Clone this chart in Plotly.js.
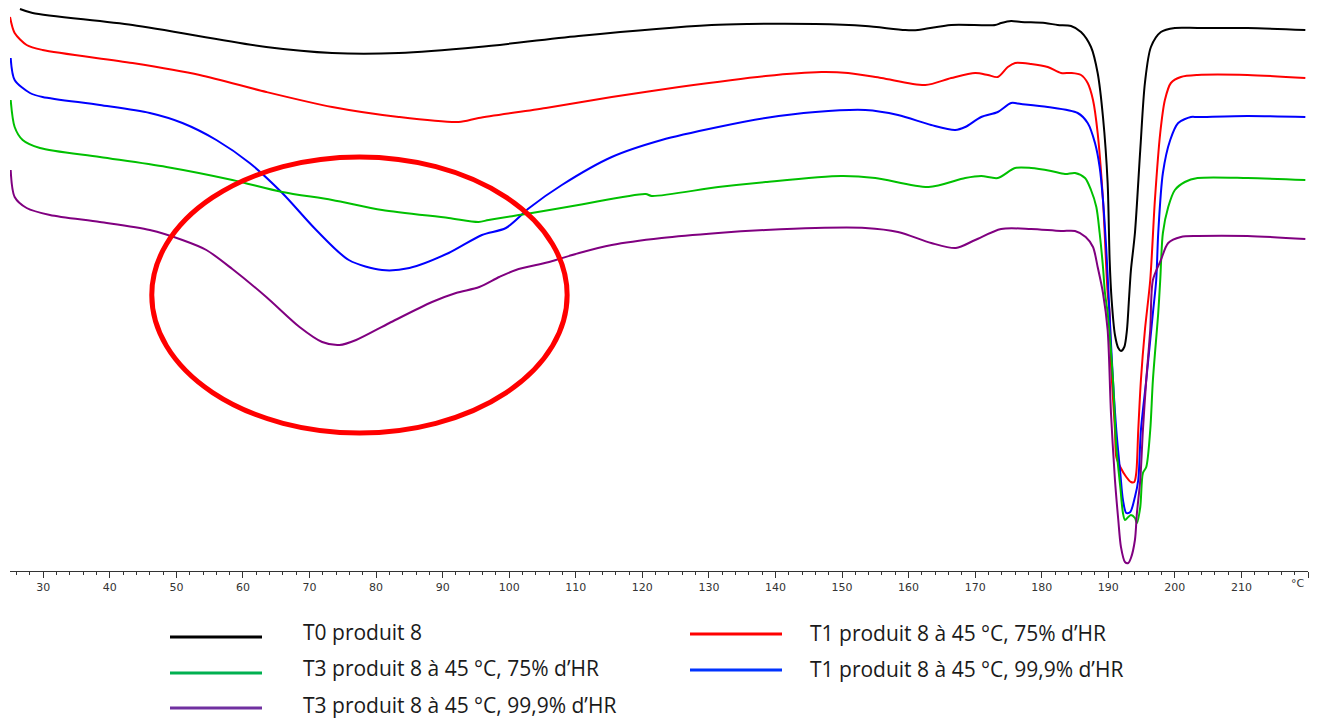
<!DOCTYPE html>
<html>
<head>
<meta charset="utf-8">
<script src="https://cdn.plot.ly/plotly-3.0.1.min.js"></script>
<style>html,body{margin:0;padding:0;background:#fff;}#chart{width:1318px;height:719px;}</style>
</head>
<body>
<div id="chart"></div>
<script>
// DSC thermograms, temperature in °C, heat flow in arbitrary units (endo down)
const tempT0 = [26.5,28.4,43.4,63.5,73.4,83.4,95.4,110.4,130.4,135.9,146.0,153.5,159.5,161.4,166.4,173.0,173.9,175.4,176.9,180.5,182.4,184.4,185.9,187.4,188.4,189.2,189.9,190.2,190.5,191.0,191.5,191.9,192.4,192.8,193.1,193.4,194.0,194.8,195.5,196.4,197.9,200.0,203.4,210.9,219.6];
const flowT0 = [562,558,546,524,518,518,524,535,546,547,547,545,541,541,546,546,548,550,549,548,546,545,539,524,498,454,388,311,271,236,223,220,224,241,271,301,338,421,488,524,539,543,543,543,541];

const tempT1_75 = [25.0,25.7,27.5,29.9,43.4,53.5,63.5,73.4,83.4,92.4,95.4,105.5,115.4,125.5,138.5,146.9,150.9,155.9,162.5,166.4,170.0,171.9,173.4,174.9,176.0,178.4,180.9,182.9,184.4,185.9,186.9,187.7,188.4,189.2,189.9,190.2,190.4,191.0,191.2,191.8,192.7,193.4,193.9,194.2,194.5,194.9,195.5,196.3,197.0,197.8,198.5,199.4,200.9,203.4,210.9,219.6];
const flowT1_75 = [554,538,526,521,508,496,479,464,454,449,453,463,474,484,495,499,498,493,486,493,498,496,494,504,508,507,504,498,498,496,488,471,438,371,278,258,208,141,114,104,94,89,89,98,141,191,241,291,371,438,471,488,494,496,496,493];

const tempT1_999 = [25.1,25.7,28.0,29.9,38.5,46.0,50.9,56.0,61.0,65.9,71.0,75.9,80.9,85.0,90.9,95.9,99.5,103.0,107.9,115.4,122.9,131.4,138.5,146.0,153.5,158.4,163.4,167.0,168.5,170.9,173.4,175.4,176.9,180.9,185.4,186.9,188.0,188.7,189.2,189.7,190.3,190.7,191.2,191.8,192.2,192.7,193.3,194.0,194.5,194.9,195.7,196.7,197.2,197.5,198.2,199.3,200.5,202.4,203.4,210.9,219.6];
const flowT1_999 = [513,491,478,474,466,458,448,431,408,378,341,311,301,303,318,336,343,363,386,414,431,444,453,459,461,456,446,441,444,454,459,468,467,464,458,448,428,404,371,321,241,191,141,98,71,58,59,74,91,141,191,258,291,338,398,431,448,454,454,455,454];

const tempT3_75 = [25.1,25.7,26.9,29.5,38.5,48.5,58.4,65.9,73.4,80.9,90.9,95.4,96.9,103.4,110.4,120.5,121.4,131.4,138.5,149.9,155.0,163.0,168.5,170.9,173.4,176.0,178.4,181.4,183.5,185.0,186.5,187.4,188.2,188.7,189.2,189.5,189.9,190.7,191.2,191.8,192.2,192.5,193.0,193.4,194.0,194.3,194.8,195.2,195.7,196.3,196.7,197.5,197.8,198.2,199.0,200.0,201.5,203.4,210.9,219.6];
const flowT3_75 = [471,444,431,423,414,404,391,379,371,361,353,349,351,358,366,377,375,384,389,395,393,384,393,395,393,403,403,400,397,398,393,381,364,338,304,278,258,191,124,84,58,51,54,56,53,48,64,98,104,141,191,258,291,338,364,381,389,393,393,391];

const tempT3_999 = [25.1,25.7,27.5,31.0,38.5,46.0,50.9,54.5,58.4,63.5,68.5,71.9,74.5,77.0,82.0,88.4,92.0,95.5,98.5,101.0,106.0,110.5,115.4,122.9,131.4,138.5,146.0,153.5,158.4,163.4,167.1,170.0,173.9,178.4,182.9,185.0,186.6,187.7,188.4,189.2,189.9,190.4,191.0,191.5,191.9,192.5,193.0,193.4,194.0,194.3,194.8,195.2,195.7,196.3,196.7,197.9,199.0,200.9,203.4,210.9,219.6];
const flowT3_999 = [401,374,363,356,349,341,331,321,302,274,244,229,226,231,248,269,278,284,294,301,309,318,326,333,338,341,343,343,339,328,323,331,342,342,340,340,334,324,304,278,241,158,91,51,24,9,8,13,31,58,91,141,191,241,291,311,328,334,335,335,332];

const seriesNames = ["T0 produit 8","T1 produit 8 à 45 °C, 75% d’HR","T1 produit 8 à 45 °C, 99,9% d’HR","T3 produit 8 à 45 °C, 75% d’HR","T3 produit 8 à 45 °C, 99,9% d’HR"];
const curveColors = ["#000000","#ff0000","#0000ff","#00c000","#800080"];
const legendColors = ["#000000","#ff0000","#0033ff","#00b050","#7030a0"];

const tickVals = [30,40,50,60,70,80,90,100,110,120,130,140,150,160,170,180,190,200,210,220];
const tickText = ["30","40","50","60","70","80","90","100","110","120","130","140","150","160","170","180","190","200","210",""];
const unitLabel = "°C";

const xs = [tempT0,tempT1_75,tempT1_999,tempT3_75,tempT3_999];
const ys = [flowT0,flowT1_75,flowT1_999,flowT3_75,flowT3_999];

const traces = xs.map((x,i)=>({
  x: x, y: ys[i], type:'scatter', mode:'lines', name: seriesNames[i],
  line:{color:curveColors[i], width:2, shape:'spline', smoothing:0.8},
  showlegend:false, hoverinfo:'skip'
}));

// layout geometry (pixels)
const W=1318, H=719, ML=10, MR=10, MT=0, MB=148;
const PW=W-ML-MR, PH=H-MT-MB;
const px = v => (v-ML)/PW;
const py = v => (H-MB-v)/PH;

// manual legend: [seriesIndex, lineX0, lineX1, lineY, textX, textY]
const legendItems = [
  [0,170,262,637,301,632],
  [3,170,262,673,301,668],
  [4,170,262,708,301,705],
  [1,690,782,634,808,633],
  [2,690,782,670,808,669]
];
const shapes = legendItems.map(it=>({
  type:'line', xref:'paper', yref:'paper',
  x0:px(it[1]), x1:px(it[2]), y0:py(it[3]), y1:py(it[3]),
  line:{color:legendColors[it[0]], width:3}
}));
// highlight ellipse around the water-loss endotherms
shapes.push({type:'circle', xref:'x', yref:'y', x0:46.3, x1:108.7, y0:138, y1:414,
  line:{color:'#ff0000', width:5}, fillcolor:'rgba(0,0,0,0)'});

const annotations = legendItems.map(it=>({
  xref:'paper', yref:'paper', x:px(it[4]), y:py(it[5]),
  xanchor:'left', yanchor:'middle', showarrow:false, text:seriesNames[it[0]],
  font:{family:'Open Sans, sans-serif', size:21, color:'#1a1a1a'}
}));
annotations.push({xref:'paper', yref:'paper', x:px(1298), y:py(583), xanchor:'center', yanchor:'middle',
  showarrow:false, text:unitLabel, font:{family:'DejaVu Sans, sans-serif', size:11, color:'#333'}});

const layout = {
  width:W, height:H,
  margin:{l:ML, r:MR, t:MT, b:MB},
  paper_bgcolor:'#ffffff', plot_bgcolor:'#ffffff',
  showlegend:false,
  xaxis:{
    range:[25,220], showgrid:false, zeroline:false,
    showline:true, linecolor:'#333', linewidth:1,
    ticks:'outside', ticklen:6, tickcolor:'#333', tickwidth:1,
    tickmode:'array', tickvals:tickVals, ticktext:tickText,
    tickfont:{family:'DejaVu Sans, sans-serif', size:11, color:'#333'},
    minor:{dtick:2, tick0:30, ticks:'outside', ticklen:3, tickcolor:'#333', showgrid:false}
  },
  yaxis:{range:[0,571], visible:false, showgrid:false, zeroline:false},
  shapes:shapes, annotations:annotations
};

Plotly.newPlot('chart', traces, layout, {staticPlot:true, displayModeBar:false});
</script>
</body>
</html>
